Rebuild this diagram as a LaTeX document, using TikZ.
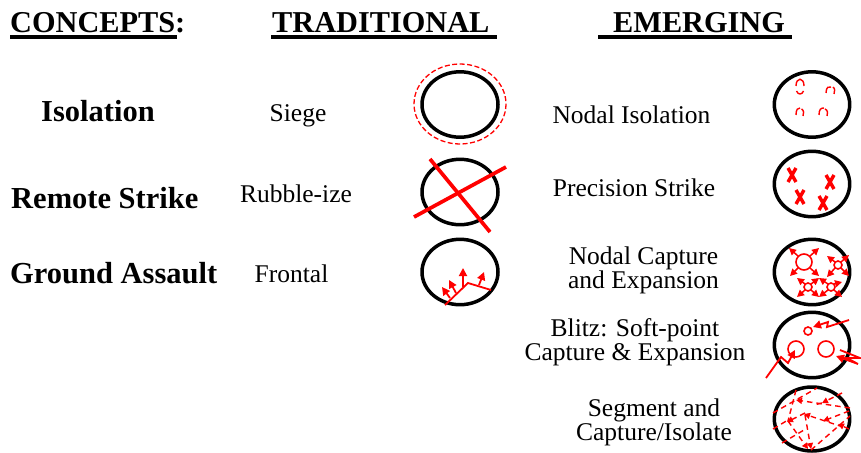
\documentclass[tikz,border=0pt]{standalone}
\usepackage{fontspec}
\setmainfont{Liberation Serif}
\usetikzlibrary{arrows.meta}
\tikzset{
  x=1pt,y=-1pt,
  ring/.style={draw=black,line width=3.5pt},
  hd/.style={inner sep=0pt,anchor=base west,font=\fontsize{30.3}{30}\selectfont\bfseries},
  bl/.style={inner sep=0pt,anchor=base west,font=\fontsize{30.5}{30}\selectfont\bfseries},
  tx/.style={inner sep=0pt,align=center,font=\fontsize{25.5}{24}\selectfont},
  rl/.style={draw=black,line width=3.6pt},
  rd/.style={draw=red,line width=1.8pt},
  arw/.style={rd,-{Triangle[length=8pt,width=8pt]}},
  arws/.style={rd,line width=1.5pt,-{Triangle[length=7pt,width=7pt]}},
  dsh/.style={rd,line width=1.4pt,dash pattern=on 5.5pt off 4pt},
  dsa/.style={dsh,-{Triangle[length=6pt,width=6pt]}},
  xm/.style={draw=red,line width=3.4pt},
  stk/.style={draw=red,line width=3.7pt},
  circ/.style={rd,line width=1.6pt},
  arcs/.style={rd,line width=1.4pt}
}
\begin{document}
\begin{tikzpicture}
\useasboundingbox (0,0) rectangle (861,452);
% headings
\node[hd] (h1) at (10,33) {CONCEPTS:};
\node[hd] (h2) at (272,33) {TRADITIONAL};
\node[hd] (h3) at (613,33) {EMERGING};
\draw[rl] (10,37.2) -- (177,37.2);
\draw[rl] (271,37.2) -- (497,37.2);
\draw[rl] (598,37.2) -- (792,37.2);
% concepts
\node[bl] (c1) at (41,121) {Isolation};
\node[bl] (c2) at (11,208) {Remote Strike};
\node[bl] (c3) at (10,283) {Ground Assault};
% traditional labels
\node[tx] (t1) at (298,116) {Siege};
\node[tx] (t2) at (296,194) {Rubble-ize};
\node[tx] (t3) at (291.5,274) {Frontal};
% emerging labels
\node[tx] (e1) at (631.5,115) {Nodal Isolation};
\node[tx] (e2) at (634,188) {Precision Strike};
\node[tx] (e3) at (643.5,270) {Nodal Capture\\and Expansion};
\node[tx] (e4) at (635,342) {Blitz: Soft-point\\Capture \& Expansion};
\node[tx] (e5) at (654,422) {Segment and\\Capture/Isolate};
% left rings
\draw[ring] (460,104.5) ellipse [x radius=38,y radius=32.7];
\draw[ring] (460,192) ellipse [x radius=38,y radius=32.7];
\draw[ring] (460,272) ellipse [x radius=38,y radius=32.7];
% right rings
\draw[ring] (812,104.5) ellipse [x radius=37.7,y radius=32.7];
\draw[ring] (812,184) ellipse [x radius=37.7,y radius=32.7];
\draw[ring] (812,272) ellipse [x radius=37.7,y radius=32.7];
\draw[ring] (812,345) ellipse [x radius=37.7,y radius=32.7];
\draw[ring] (812,419) ellipse [x radius=37.7,y radius=32];
% siege
\draw[rd,line width=1.3pt,dash pattern=on 5pt off 2.5pt] (460,104) ellipse [x radius=46,y radius=40];
% rubble
\draw[stk] (430,159) -- (490,232);
\draw[stk] (414,217) -- (506,167);
% frontal
\draw[rd] (445,305) -- (468,283) -- (491,290);
\draw[arw] (450,298) -- (442,287);
\draw[arw] (456,293) -- (449,280);
\draw[arw] (463,287) -- (463,268);
\draw[arw] (479,285) -- (484,272);
% nodal isolation
\draw[arcs] (796,86) .. controls (796,77) and (804,77) .. (804,86);
\draw[arcs] (796.5,91) .. controls (798,95) and (802,95) .. (803.5,91);
\draw[arcs] (826,93) .. controls (826,87) and (829,86) .. (831,87);
\draw[arcs] (833,87) .. controls (835,88) and (835,92) .. (834,94);
\draw[arcs] (796,115) .. controls (796,109) and (798,108) .. (800,108);
\draw[arcs] (801.5,109) .. controls (804,110) and (804,114) .. (803,116);
\draw[arcs] (819,115) .. controls (819,109) and (821,108) .. (824,108);
\draw[arcs] (825,109) .. controls (828,110) and (828,114) .. (827,116);
% X marks
\foreach \cx/\cy in {792/175,830/182,800/197,823/203}{
  \draw[xm] (\cx-4,\cy-7) -- (\cx+4,\cy+7);
  \draw[xm] (\cx+4,\cy-7) -- (\cx-4,\cy+7);
}
% nodal capture
\draw[circ] (804,262) circle (8);
\draw[circ] (838,265) circle (4);
\draw[circ] (808,287) circle (4);
\draw[circ] (831,287) circle (4);
\draw[arws] (798,256) -- (789,248);
\draw[arws] (810,256) -- (819,248);
\draw[arws] (798,268) -- (790,276);
\draw[arws] (810,268) -- (819,276);
\draw[arws] (835,262) -- (827,256);
\draw[arws] (841,262) -- (849,255);
\draw[arws] (835,268) -- (827,277);
\draw[arws] (841,268) -- (849,276);
\draw[arws] (805,284) -- (797,278);
\draw[arws] (811,284) -- (819,278);
\draw[arws] (805,290) -- (797,297);
\draw[arws] (811,290) -- (819,297);
\draw[arws] (828,284) -- (819,278);
\draw[arws] (834,284) -- (842,282);
\draw[arws] (828,290) -- (819,297);
\draw[arws] (834,290) -- (842,297);
% blitz
\draw[circ] (808,331) circle (4);
\draw[circ] (796,349) circle (8);
\draw[circ] (826,349) circle (8);
\draw[arw] (849,320) -- (827,327) -- (828,322) -- (813,327);
\draw[arw] (766,378) -- (781,357) -- (788,363) -- (795,350);
\draw[arw] (840,350) -- (860,358) -- (847,358) -- (858,364) -- (836,356);
% segment
\draw[dsh] (773,413) -- (817,388);
\draw[dsh] (796,390) -- (788,421);
\draw[dsa] (850,408) -- (796,400);
\draw[dsa] (842,393) -- (822,403);
\draw[dsh] (822,403) -- (814,405);
\draw[dsh] (773,429) -- (788,420);
\draw[dsa] (805,413) -- (787,422);
\draw[dsa] (788,421) -- (808,449);
\draw[dsa] (805,415) -- (811,449);
\draw[dsa] (843,427) -- (804,414);
\draw[dsh] (782,443) -- (804,430);
\draw[dsa] (849,411) -- (823,421);
\draw[dsh] (811,450) -- (850,416);
\draw[dsa] (849,429) -- (838,424);
\end{tikzpicture}
\end{document}
